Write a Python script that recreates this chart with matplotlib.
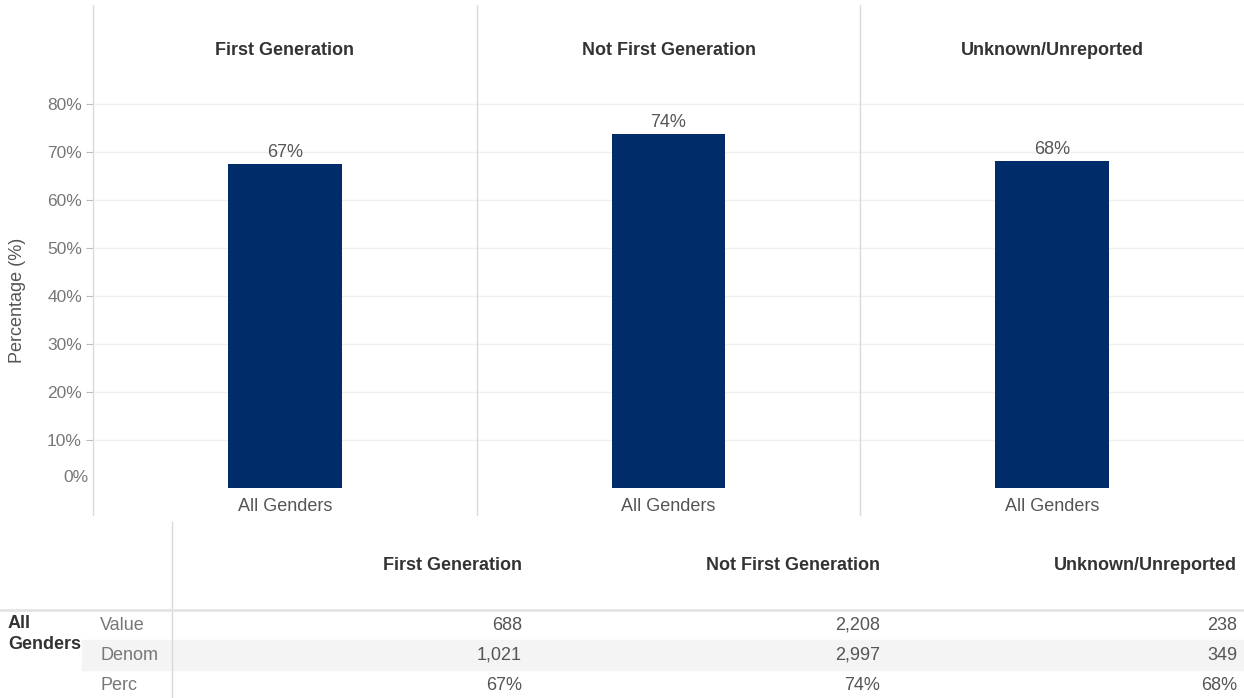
import matplotlib.pyplot as plt
from matplotlib.patches import Rectangle

plt.rcParams['font.family'] = ['Liberation Sans', 'DejaVu Sans']

groups = ['First Generation', 'Not First Generation', 'Unknown/Unreported']
gender = 'All Genders'
value = [688, 2208, 238]
denom = [1021, 2997, 349]
yticks = [10, 20, 30, 40, 50, 60, 70, 80]

perc = [100 * v / d for v, d in zip(value, denom)]

W, H = 1244, 698
BAR = '#002d69'
GRID = '#efefef'
LINE = '#d9d9d9'
TXT = '#555555'
HEAD = '#333333'
FS = 13


def fx(px):
    return px / W


def fy(py):
    return 1 - py / H


fig = plt.figure(figsize=(W / 100, H / 100), dpi=100)

# --- bar panels ---
ax = fig.add_axes([fx(93), fy(488), fx(1244) - fx(93), fy(5) - fy(488)])
x = range(len(groups))
ax.bar(x, perc, width=0.296, color=BAR, zorder=3)
ax.set_xlim(-0.5, len(groups) - 0.5)
ax.set_ylim(0, 100.6)

ax.set_yticks(yticks)
ax.set_yticklabels([f'{t}%' for t in yticks], fontsize=12.5, color='#777777')
ax.tick_params(axis='y', length=5, width=0.8, color='#bbbbbb', pad=3)
ax.set_xticks(list(x))
ax.set_xticklabels([gender] * len(groups), fontsize=FS, color=TXT)
ax.tick_params(axis='x', length=0, pad=7)
ax.annotate('0%', xy=(0, 0), xycoords=('axes fraction', 'data'),
            xytext=(-4, 10), textcoords='offset pixels',
            ha='right', va='center', fontsize=12.5, color='#777777')

for t in yticks:
    ax.axhline(t, color=GRID, lw=1, zorder=1)

for s in ['top', 'right', 'bottom', 'left']:
    ax.spines[s].set_visible(False)

# panel borders run down past the category labels
ext = -(515 - 488) / (488 - 5)
ax.axvline(-0.5, ymin=ext, ymax=1, color=LINE, lw=1, clip_on=False)
for b in [0.5, 1.5]:
    ax.axvline(b, ymin=ext, ymax=1, color=LINE, lw=1, clip_on=False)

for i, p in enumerate(perc):
    ax.annotate(f'{p:.0f}%', xy=(i, p), xytext=(0, 3), textcoords='offset pixels',
                ha='center', va='bottom', fontsize=FS, color=TXT)

for i, g in enumerate(groups):
    ax.text(i, 0.905, g, transform=ax.get_xaxis_transform(),
            ha='center', va='center', fontsize=FS, fontweight='bold', color=HEAD)

fig.text(fx(18), fy(300), 'Percentage (%)', rotation=90, ha='center', va='center',
         fontsize=FS, color=TXT)

# --- summary table below ---
tab = fig.add_axes([0, 0, 1, 1])
tab.set_xlim(0, W)
tab.set_ylim(H, 0)
tab.axis('off')

tab.add_patch(Rectangle((82, 640), W - 82, 30, color='#f4f4f4', zorder=0))
tab.plot([172, 172], [522, H], color=LINE, lw=1)
tab.plot([0, W], [610, 610], color='#e3e3e3', lw=2)

col_right = [522, 880, 1237]
for xr, g in zip(col_right, groups):
    tab.text(xr, 565, g, ha='right', va='center', fontsize=FS,
             fontweight='bold', color=HEAD)

tab.text(8, 634, 'All\nGenders', ha='left', va='center', fontsize=FS,
         fontweight='bold', color=HEAD, linespacing=1.25)

rows = [('Value', [f'{v:,}' for v in value]),
        ('Denom', [f'{d:,}' for d in denom]),
        ('Perc', [f'{p:.0f}%' for p in perc])]
for r, (name, cells) in enumerate(rows):
    yy = 625 + 30 * r
    tab.text(100, yy, name, ha='left', va='center', fontsize=FS, color='#777777')
    for xr, c in zip(col_right, cells):
        tab.text(xr, yy, c, ha='right', va='center', fontsize=FS, color=TXT)

fig.savefig('out.png', dpi=100)
